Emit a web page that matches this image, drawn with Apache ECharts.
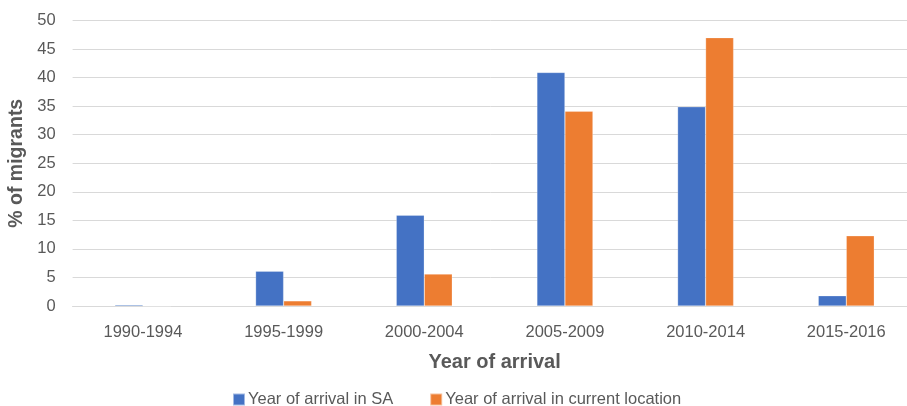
<!DOCTYPE html>
<html><head><meta charset="utf-8">
<script src="https://cdn.jsdelivr.net/npm/echarts@6/dist/echarts.min.js"></script>
<style>html,body{margin:0;padding:0;background:#fff}#c{width:907px;height:406px}</style>
</head><body><div id="c"></div>
<script>
const categories = ['1990-1994','1995-1999','2000-2004','2005-2009','2010-2014','2015-2016'];
const arrivalSA = [0.2, 6.1, 15.9, 40.9, 34.9, 1.8];
const arrivalCurrent = [0, 0.9, 5.6, 34.1, 47.0, 12.3];
const yTicks = {min: 0, max: 50, interval: 5};
const seriesNames = ['Year of arrival in SA', 'Year of arrival in current location'];

const font = 'Liberation Sans';
const chart = echarts.init(document.getElementById('c'), null, {renderer: 'canvas'});
chart.setOption({
  animation: false,
  textStyle: {fontFamily: font},
  grid: {left: 72.6, top: 20.5, width: 844, height: 285.5, outerBoundsMode: 'none', containLabel: false},
  legend: {
    left: 227, top: 386, itemWidth: 12, itemHeight: 12, itemGap: 36,
    icon: 'rect',
    textStyle: {color: '#595959', fontSize: 16.5, fontFamily: font, padding: [0,0,0,-2]},
    data: seriesNames
  },
  xAxis: {
    type: 'category', data: categories,
    name: 'Year of arrival', nameLocation: 'middle', nameGap: 46,
    nameTextStyle: {color: '#595959', fontSize: 20, fontWeight: 'bold', fontFamily: font},
    axisLine: {lineStyle: {color: '#D9D9D9', width: 1}},
    axisTick: {show: false},
    axisLabel: {color: '#595959', fontSize: 16.5, margin: 18, fontFamily: font}
  },
  yAxis: {
    type: 'value', min: yTicks.min, max: yTicks.max, interval: yTicks.interval,
    name: '% of migrants', nameLocation: 'middle', nameGap: 43,
    nameTextStyle: {color: '#595959', fontSize: 19.5, fontWeight: 'bold', fontFamily: font},
    axisLine: {show: false}, axisTick: {show: false},
    axisLabel: {color: '#595959', fontSize: 16.5, margin: 17, fontFamily: font},
    splitLine: {lineStyle: {color: '#D9D9D9', width: 1}}
  },
  series: [
    {name: seriesNames[0], type: 'bar', data: arrivalSA, barWidth: 28, barGap: '0%', barCategoryGap: '60%',
     itemStyle: {color: '#4472C4', borderColor: 'rgba(255,255,255,0.5)', borderWidth: 0.5}},
    {name: seriesNames[1], type: 'bar', data: arrivalCurrent, barWidth: 28, barGap: '0%',
     itemStyle: {color: '#ED7D31', borderColor: 'rgba(255,255,255,0.5)', borderWidth: 0.5}}
  ]
});
</script></body></html>
